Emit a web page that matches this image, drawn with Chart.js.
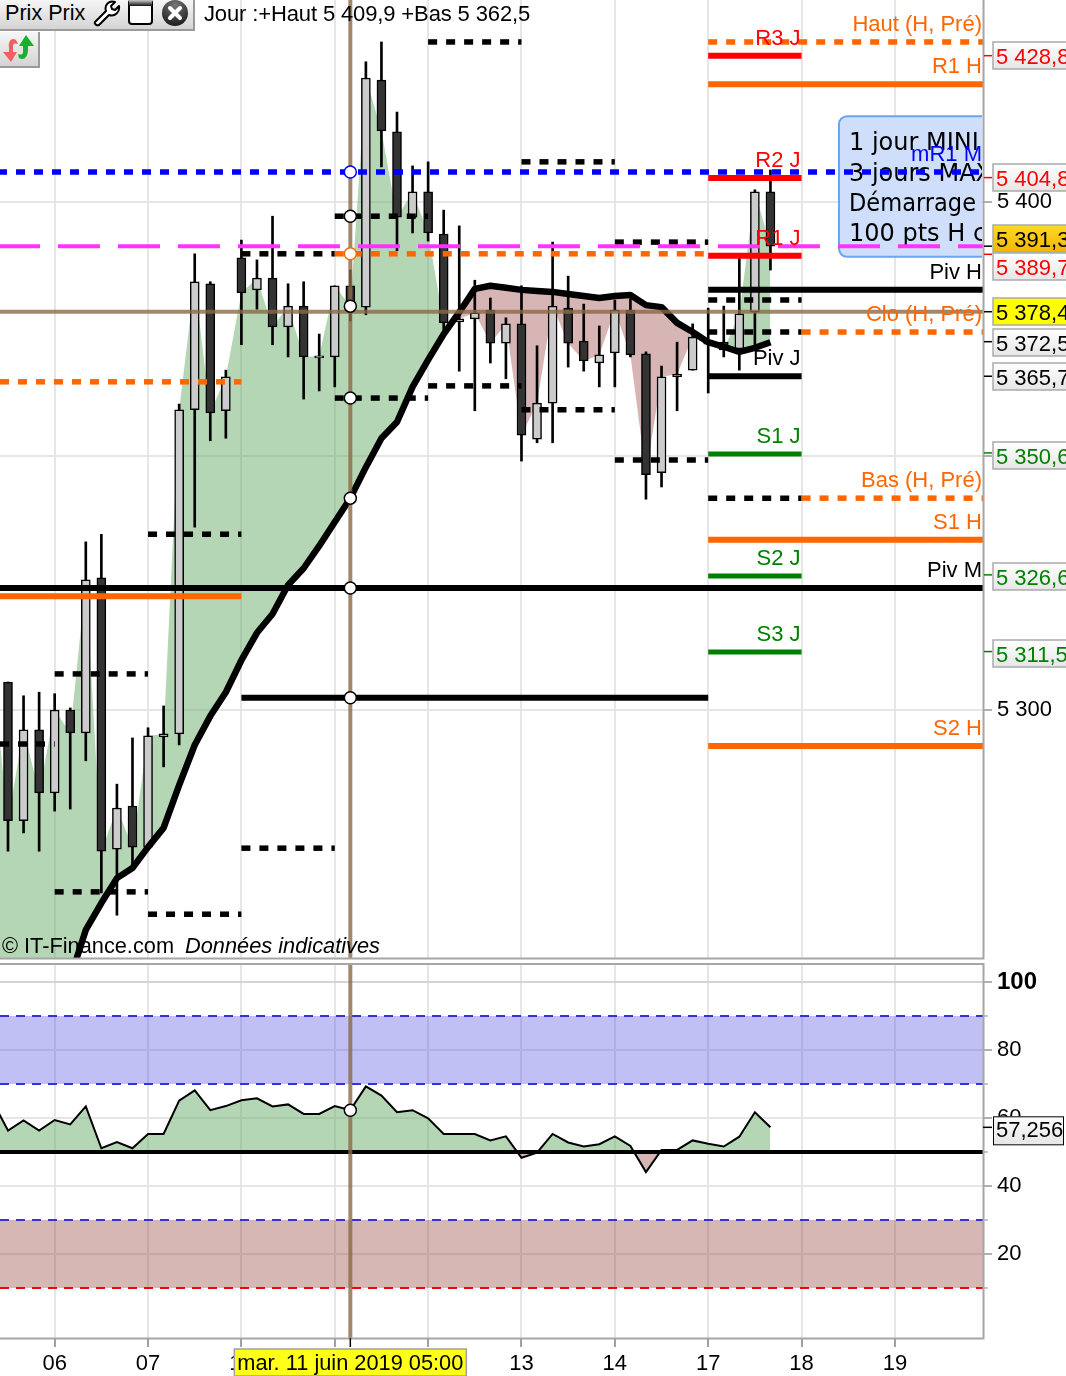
<!DOCTYPE html>
<html lang="fr"><head><meta charset="utf-8"><title>Prix</title>
<script src="https://cdn.jsdelivr.net/npm/chart.js@4/dist/chart.umd.min.js"></script>
<style>
html,body{margin:0;padding:0;background:#fff;width:1066px;height:1376px;overflow:hidden;font-family:"Liberation Sans",Arial,sans-serif;color:#000}
canvas{position:absolute;left:0}
#main{top:0}#osc{top:960px}
#bar{position:absolute;left:0;top:0;width:193px;height:29px;background:linear-gradient(#f6f6f6,#d4d4d4);border-right:2px solid #9a9a9a;border-bottom:2px solid #9a9a9a}
#bar span{position:absolute;left:5px;top:0;font-size:21.6px;line-height:26px;white-space:pre}
#bar svg{position:absolute;top:0}
#btn{position:absolute;left:0;top:32px;width:38px;height:34px;background:linear-gradient(#f6f6f6,#d4d4d4);border-right:2px solid #9a9a9a;border-bottom:2px solid #9a9a9a}
#title{position:absolute;left:204px;top:1px;font-size:22px;line-height:26px;white-space:pre;letter-spacing:-.13px}
</style></head><body>
<canvas id="main" width="1066" height="960"></canvas>
<canvas id="osc" width="1066" height="416"></canvas>
<div id="bar"><span>Prix Prix</span>
<svg style="left:93px" width="28" height="27" viewBox="0 0 28 27"><path d="M2 22 L13 11 C11 5 16 0 22 2 L18 6 L19 9 L22 10 L26 6 C27 12 22 17 16 15 L6 25 C4 26 1 24 2 22 Z" fill="#fff" stroke="#000" stroke-width="2" stroke-linejoin="round"/></svg>
<svg style="left:127px" width="28" height="27" viewBox="0 0 28 27"><defs><linearGradient id="w" x1="0" y1="0" x2="0" y2="1"><stop offset="0" stop-color="#ccc"/><stop offset="1" stop-color="#111"/></linearGradient></defs><rect x="2" y="0" width="23" height="24" rx="3" fill="#fff" stroke="#000" stroke-width="2"/><rect x="2" y="0" width="23" height="6" fill="url(#w)"/></svg>
<svg style="left:161px" width="28" height="27" viewBox="0 0 28 27"><defs><radialGradient id="c" cx=".5" cy=".2" r=".9"><stop offset="0" stop-color="#777"/><stop offset="1" stop-color="#111"/></radialGradient></defs><circle cx="14" cy="13" r="13" fill="url(#c)"/><path d="M9 8 L19 18 M19 8 L9 18" stroke="#fff" stroke-width="4" stroke-linecap="round"/></svg>
</div>
<div id="btn"><svg width="36" height="30" viewBox="0 0 36 30" style="position:absolute;left:1px;top:2px"><path d="M15 6 C10 3 7 8 8 14 L8 18 L2 18 L10 28 L16 18 L12 18 L12 12 C12 9 14 9 17 10 Z" fill="#f06060"/><path d="M18 24 C24 27 27 22 27 15 L27 12 L33 12 L25 1 L18 12 L22 12 L22 18 C22 21 20 21 17 20 Z" fill="#18b030"/></svg></div>
<div id="title">Jour :+Haut 5 409,9 +Bas 5 362,5</div>
<script>
const dayTicks=[3,9,15,21,27,33,39,45,51,57];
const dayLabels=['06','07','10','11','12','13','14','17','18','19'];
const opens=[5305.5,5278.2,5296.1,5283.7,5300.0,5295.5,5326.0,5272.6,5281.1,5273.0,5294.7,5295.3,5359.1,5383.9,5358.9,5389.0,5382.7,5385.0,5375.4,5379.5,5369.3,5369.5,5383.5,5379.3,5424.0,5413.8,5397.0,5402.0,5393.7,5376.4,5377.0,5378.7,5372.2,5376.0,5353.3,5360.4,5379.1,5372.6,5368.3,5370.3,5378.7,5370.1,5346.7,5365.6,5366.9,5372.8,5372.4,5371.1,5378.3,5402.0];
const highs=[5305.5,5302.8,5303.5,5303.2,5300.4,5333.1,5334.6,5285.4,5294.5,5296.5,5300.8,5360.2,5389.8,5384.3,5366.9,5392.5,5388.6,5397.2,5383.9,5384.3,5374.0,5383.5,5386.6,5427.6,5431.5,5417.7,5407.1,5407.9,5398.4,5395.3,5384.6,5381.1,5377.2,5383.5,5371.7,5392.1,5385.4,5379.9,5375.6,5380.7,5380.9,5370.5,5367.7,5372.4,5376.0,5379.1,5379.5,5389.0,5402.4,5406.3];
const lows=[5272.2,5275.8,5272.2,5280.1,5280.5,5290.0,5264.0,5259.6,5269.1,5273.0,5288.8,5293.1,5336.0,5353.0,5353.5,5371.9,5378.9,5371.9,5369.5,5361.2,5362.8,5363.6,5376.6,5377.8,5406.9,5390.4,5393.9,5392.3,5374.8,5366.7,5358.9,5368.3,5365.2,5349.0,5352.6,5352.6,5367.5,5366.7,5363.6,5363.6,5369.5,5341.5,5343.9,5358.9,5366.9,5362.4,5369.5,5366.9,5371.5,5386.6];
const closes=[5278.2,5296.1,5283.7,5300.0,5295.5,5325.6,5272.2,5280.7,5273.0,5294.9,5295.3,5359.1,5384.3,5358.5,5365.6,5382.1,5385.0,5375.4,5379.5,5369.5,5369.7,5383.5,5379.5,5424.4,5414.0,5397.0,5402.0,5393.9,5376.2,5377.0,5378.2,5372.2,5376.0,5354.1,5360.4,5379.5,5372.2,5368.7,5369.9,5378.7,5369.9,5346.3,5365.6,5366.1,5373.4,5372.0,5370.9,5378.0,5402.0,5391.3];
const closeBefore=5307.9;
const avgBefore=5213.4;
const average=[5219.3,5225.2,5231.1,5239.0,5247.2,5256.7,5262.0,5266.9,5268.9,5273.0,5276.8,5285.2,5293.1,5298.8,5303.5,5309.8,5315.2,5318.9,5324.6,5327.9,5332.3,5337.0,5341.7,5347.8,5353.5,5356.7,5363.6,5368.9,5374.0,5378.3,5382.9,5383.5,5383.1,5382.7,5382.5,5382.3,5381.9,5381.5,5381.1,5381.5,5381.7,5379.7,5379.3,5376.2,5374.4,5372.4,5371.5,5370.5,5371.3,5372.4];
const oscBefore=65.0;
const oscillator=[56.3,59.3,56.3,59.4,58.1,63.4,51.1,52.9,51.1,55.3,55.3,65.1,68.1,62.3,63.5,65.2,65.8,63.4,64.0,61.2,61.2,63.5,62.3,69.3,66.6,61.7,62.3,59.9,55.3,55.3,55.3,53.4,54.6,48.3,49.8,55.3,52.8,51.6,52.3,54.6,51.8,44.1,50.6,50.6,53.4,52.4,51.6,54.5,61.7,57.256];

const X0=-0.514,X1=62.66,CROSS=22;
const priceTicks=[5300,5350,5400];
const oscTicks=[20,40,60,80,100];
const oscMinor=[10,30,50,70,90];
// [from day index, to day index, level]
const blackDotted=[[X0,3,5293.3],[3,9,5307.1],[3,9,5264.2],[9,15,5334.6],[9,15,5259.8],[15,21,5389.8],[15,21,5272.8],[21,27,5397.2],[21,27,5361.4],[27,33,5431.5],[27,33,5363.8],[33,39,5407.9],[33,39,5359.1],[39,45,5392.1],[39,45,5349.2],[45,51,5380.7],[45,51,5374.4],[45,51,5341.7]];
const orangeDotted=[[X0,15,5364.6],[21,45,5389.8],[45,X1,5431.5],[51,X1,5374.4],[51,X1,5341.7]];
const blackSolid=[[X0,X1,5324.0],[15,45,5302.4],[45,X1,5382.7],[45,51,5365.7]];
const orangeSolid=[[X0,15,5322.4],[45,X1,5423.2],[45,X1,5333.5],[45,X1,5292.9]];
const redSolid=[[45,51,5428.8],[45,51,5404.7],[45,51,5389.4]];
const greenSolid=[[45,51,5350.4],[45,51,5326.4],[45,51,5311.4]];
const monthlyLevel=5405.9;
const lastLevel=5391.3;
const crossPrice=5378.4;
const crossPoints=[5405.9,5397.2,5389.8,5379.5,5361.4,5341.7,5324.0,5302.4];
const crossColors=['#0000ff','#000','#ff6600','#000','#000','#000','#000','#000'];
// text, colour, level it labels, right-hand day index
const levelLabels=[
['Haut (H, Pré)','#ff6600',5431.5,X1],['R1 H','#ff6600',5423.2,X1],['mR1 M','#0000ff',5405.9,X1],['Piv H','#000',5382.7,X1],
['Clo (H, Pré)','#ff6600',5374.4,X1],['Bas (H, Pré)','#ff6600',5341.7,X1],['S1 H','#ff6600',5333.5,X1],['Piv M','#000',5324.0,X1],['S2 H','#ff6600',5292.9,X1],
['R3 J','#ff0000',5428.8,51],['R2 J','#ff0000',5404.7,51],['R1 J','#ff0000',5389.4,51],['Piv J','#000',5365.7,51],
['S1 J','#008000',5350.4,51],['S2 J','#008000',5326.4,51],['S3 J','#008000',5311.4,51]];
// value, text colour, background, nudge
const priceTags=[
[5428.8,'#ff0000',null,0],[5404.8,'#ff0000',null,0],[5391.3,'#000','gold',-8],[5389.7,'#ff0000',null,12],
[5378.4,'#000','yellow',0],[5372.5,'#000',null,1],[5365.7,'#000',null,0],[5350.6,'#008000',null,3],[5326.6,'#008000',null,2],[5311.5,'#008000',null,2]];
const noteLines=['1 jour MINI','3 jours MAX','Démarrage','100 pts H c'];
const noteBand=[5416.9,5389.2];
const dateText='mar. 11 juin 2019 05:00';
const oscTag='57,256';

const FONT='"Liberation Sans",Arial,sans-serif';
const GRID='#e6e6e6',FRAME='#a6a6a6';
const fmt=v=>String(v).replace('.',',').replace(/^(\d)(\d{3})/,'$1 $2');
const idx=a=>a.map((_,i)=>i);
function seg(s,color,width,dash,order,offset){return {type:'line',data:[{x:s[0],y:s[2]},{x:s[1],y:s[2]}],borderColor:color,borderWidth:width,borderDash:dash||[],borderDashOffset:offset||0,pointRadius:0,order:order,tension:0};}
const candleColors=closes.map((c,i)=>c>=opens[i]?'#cccccc':'#333333');

const datasets=[
 {type:'line',data:[{x:-1,y:closeBefore},...closes.map((c,i)=>({x:i,y:c}))],borderWidth:0,pointRadius:0,tension:0,order:50,
  fill:{target:1,above:'rgba(100,170,100,.48)',below:'rgba(166,90,90,.45)'}},
 {type:'line',data:[{x:-1,y:avgBefore},...average.map((c,i)=>({x:i,y:c}))],borderColor:'#000',borderWidth:6.5,pointRadius:0,tension:0,order:5,fill:false,borderJoinStyle:'round'},
 {type:'bar',grouped:false,data:idx(highs).map(i=>({x:i,y:[lows[i],highs[i]]})),backgroundColor:'#000',barThickness:2,order:40},
 {type:'bar',grouped:false,data:idx(opens).map(i=>({x:i,y:[opens[i],closes[i]]})),backgroundColor:candleColors,borderColor:'#000',borderWidth:1.5,borderSkipped:false,barThickness:9,order:39},
 ...blackDotted.map(s=>seg(s,'#000',5.5,[9,9],12)),
 ...orangeDotted.map(s=>seg(s,'#ff6600',5.5,[9,9],11)),
 ...blackSolid.map(s=>seg(s,'#000',6,[],9)),
 ...orangeSolid.map(s=>seg(s,'#ff6600',6,[],9)),
 ...redSolid.map(s=>seg(s,'#ff0000',6,[],9)),
 ...greenSolid.map(s=>seg(s,'#008000',5,[],9)),
 seg([X0,X1,monthlyLevel],'#0000ff',5.5,[9,9],8,2),
 seg([X0,X1,lastLevel],'#ff33ff',4,[42,18],8,2),
 seg([X0,X1,crossPrice],'rgba(140,105,70,.8)',4,[],3),
 {type:'line',data:[{x:CROSS,y:5251},{x:CROSS,y:5440}],borderColor:'rgba(140,105,70,.8)',borderWidth:4,pointRadius:0,order:2},
 {type:'line',showLine:false,data:crossPoints.map(v=>({x:CROSS,y:v})),pointRadius:6,pointBackgroundColor:'#fff',pointBorderColor:crossColors,pointBorderWidth:1.5,order:1}
];

function zeroPad(s){s.paddingTop=s.paddingBottom=s.paddingLeft=s.paddingRight=0;}
const xBase={type:'linear',min:X0,max:X1,offset:false,
 afterBuildTicks(s){s.ticks=dayTicks.map(v=>({value:v}));},
 border:{display:false}};

function drawTag(ctx,y,text,color,bg){
 const x=993,w=90,h=27,t=Math.round(y-h/2);
 let fill=bg;
 if(!bg||bg==='gold'){const g=ctx.createLinearGradient(0,t,0,t+h);
  if(bg==='gold'){g.addColorStop(0,'#ffd92a');g.addColorStop(1,'#f2b600');}else{g.addColorStop(0,'#ffffff');g.addColorStop(1,'#e6e6e6');}
  fill=g;}
 ctx.fillStyle=fill;ctx.fillRect(x,t,w,h);
 ctx.strokeStyle='#aaaaaa';ctx.lineWidth=1.5;ctx.strokeRect(x,t,w,h);
 ctx.fillStyle=color;ctx.font='22px '+FONT;ctx.textAlign='left';ctx.textBaseline='middle';
 ctx.fillText(text,996,t+h/2+2);
}

const mainPlugin={id:'mainDecor',
 beforeDatasetsDraw(c){
  const ctx=c.ctx,a=c.chartArea,y=c.scales.y;
  const top=y.getPixelForValue(noteBand[0]),bot=y.getPixelForValue(noteBand[1]);
  ctx.save();ctx.beginPath();ctx.rect(a.left,a.top,a.right-a.left-1,a.bottom-a.top);ctx.clip();
  ctx.beginPath();ctx.roundRect(839,top,200,bot-top,8);
  ctx.fillStyle='#cfdffb';ctx.fill();ctx.strokeStyle='#6fa3f0';ctx.lineWidth=2;ctx.stroke();
  ctx.fillStyle='#000';ctx.font='24px "DejaVu Sans",sans-serif';ctx.textAlign='left';ctx.textBaseline='middle';
  noteLines.forEach((t,i)=>i===2?ctx.fillText(t,849,top+28+i*30.3,127):ctx.fillText(t,849,top+28+i*30.3));
  ctx.restore();
 },
 afterDatasetsDraw(c){
  const ctx=c.ctx,a=c.chartArea,y=c.scales.y,x=c.scales.x;
  ctx.save();
  ctx.font='22px '+FONT;ctx.textAlign='right';ctx.textBaseline='middle';
  levelLabels.forEach(l=>{ctx.fillStyle=l[1];ctx.fillText(l[0],Math.min(x.getPixelForValue(l[3]),a.right)-1,y.getPixelForValue(l[2])-17);});
  ctx.textAlign='left';ctx.fillStyle='#000';
  ctx.fillText('© IT-Finance.com',2,a.bottom-11,172);
  ctx.font='italic 22px '+FONT;ctx.fillText('Données indicatives',185,a.bottom-11,195);
  ctx.strokeStyle=FRAME;ctx.lineWidth=2;ctx.beginPath();ctx.moveTo(0,a.bottom+.5);ctx.lineTo(a.right+.5,a.bottom+.5);ctx.lineTo(a.right+.5,0);ctx.stroke();
  priceTags.forEach(t=>{
   const py=y.getPixelForValue(t[0]);
   ctx.strokeStyle=t[1];ctx.lineWidth=1.5;ctx.beginPath();ctx.moveTo(a.right+1,py);ctx.lineTo(a.right+9,py);ctx.stroke();
  });
  priceTags.forEach(t=>drawTag(ctx,y.getPixelForValue(t[0])+t[3],fmt(t[0].toFixed(1)),t[1],t[2]));
  ctx.restore();
 }};

new Chart(document.getElementById('main'),{type:'bar',data:{datasets},plugins:[mainPlugin],
 options:{responsive:false,animation:false,devicePixelRatio:1,layout:{autoPadding:false,padding:{bottom:2}},
  plugins:{legend:{display:false},tooltip:{enabled:false}},
  scales:{
   x:{...xBase,grid:{color:GRID,lineWidth:2,drawTicks:false,offset:false},ticks:{display:false},afterFit(s){s.height=0;zeroPad(s);}},
   y:{position:'right',min:5251.18,max:5439.76,
    afterBuildTicks(s){s.ticks=priceTicks.map(v=>({value:v}));},
    afterFit(s){s.width=83;zeroPad(s);},
    border:{display:false},
    grid:{color:GRID,lineWidth:2,tickLength:9,tickColor:'#b0b0b0'},
    ticks:{padding:5,color:'#000',font:{family:FONT,size:22},callback:v=>fmt(v)}}
  }}});

function band(v,color,fillTo,fillColor,order){
 return {type:'line',data:[{x:X0,y:v},{x:X1,y:v}],borderColor:color,borderWidth:2,borderDash:[9,7],pointRadius:0,order:order,
  fill:fillTo==null?false:{value:fillTo},backgroundColor:fillColor};
}
const oscSets=[
 band(90,'#3333dd',70,'rgba(60,60,220,.32)',30),
 band(70,'#3333dd',null,null,30),
 band(30,'#3333dd',10,'rgba(140,50,40,.35)',30),
 band(10,'#ff0000',null,null,30),
 {type:'line',data:[{x:-1,y:oscBefore},...oscillator.map((v,i)=>({x:i,y:v}))],borderColor:'#000',borderWidth:2,pointRadius:0,tension:0,order:10,
  fill:{value:50,above:'rgba(100,170,100,.48)',below:'rgba(166,90,90,.45)'}},
 {type:'line',data:[{x:X0,y:50},{x:X1,y:50}],borderColor:'#000',borderWidth:4,pointRadius:0,order:5},
 {type:'line',data:[{x:CROSS,y:-4.71},{x:CROSS,y:105.29}],borderColor:'rgba(140,105,70,.8)',borderWidth:4,pointRadius:0,order:2},
 {type:'line',showLine:false,data:[{x:CROSS,y:oscillator[CROSS]}],pointRadius:6,pointBackgroundColor:'#fff',pointBorderColor:'#000',pointBorderWidth:1.5,order:1}
];
const oscPlugin={id:'oscDecor',
 afterDatasetsDraw(c){
  const ctx=c.ctx,a=c.chartArea,y=c.scales.y,x=c.scales.x;
  ctx.save();
  ctx.strokeStyle=FRAME;ctx.lineWidth=2;ctx.beginPath();
  ctx.moveTo(0,a.top);ctx.lineTo(a.right+.5,a.top);ctx.lineTo(a.right+.5,a.bottom+.5);ctx.lineTo(0,a.bottom+.5);ctx.stroke();
  ctx.lineWidth=1.5;ctx.strokeStyle='#b0b0b0';
  oscMinor.forEach(v=>{const py=y.getPixelForValue(v);ctx.beginPath();ctx.moveTo(a.right,py);ctx.lineTo(a.right+5,py);ctx.stroke();});
  const last=oscillator[oscillator.length-1],py=y.getPixelForValue(last);
  ctx.strokeStyle='#000';ctx.beginPath();ctx.moveTo(a.right,py);ctx.lineTo(a.right+9,py);ctx.stroke();
  const g=ctx.createLinearGradient(0,py-14,0,py+14);g.addColorStop(0,'#fff');g.addColorStop(1,'#e8e8e8');
  ctx.fillStyle=g;ctx.fillRect(993,py-11,70,28);ctx.strokeStyle='#000';ctx.lineWidth=1;ctx.strokeRect(993.5,py-10.5,70,28);
  ctx.fillStyle='#000';ctx.font='22px '+FONT;ctx.textAlign='left';ctx.textBaseline='middle';ctx.fillText(oscTag,996,py+4);
  const cx=x.getPixelForValue(CROSS);
  ctx.strokeStyle='#000';ctx.lineWidth=1.5;ctx.beginPath();ctx.moveTo(cx,a.bottom);ctx.lineTo(cx,a.bottom+9);ctx.stroke();
  ctx.fillStyle='#ffff1a';ctx.fillRect(cx-116,a.bottom+11,232,27);ctx.strokeStyle='#a0a0a0';ctx.strokeRect(cx-116,a.bottom+11,232,27);
  ctx.fillStyle='#000';ctx.font='22px '+FONT;ctx.textAlign='center';ctx.fillText(dateText,cx,a.bottom+26,226);
  ctx.restore();
 }};
new Chart(document.getElementById('osc'),{type:'line',data:{datasets:oscSets},plugins:[oscPlugin],
 options:{responsive:false,animation:false,devicePixelRatio:1,layout:{autoPadding:false,padding:{top:4}},
  plugins:{legend:{display:false},tooltip:{enabled:false}},
  scales:{
   x:{...xBase,grid:{color:GRID,lineWidth:2,tickLength:9,tickColor:'#a0a0a0'},
    ticks:{color:'#000',font:{family:FONT,size:22},padding:4,maxRotation:0,autoSkip:false,callback:v=>dayLabels[dayTicks.indexOf(v)]},
    afterFit(s){s.height=38;zeroPad(s);}},
   y:{position:'right',min:-4.71,max:105.29,
    afterBuildTicks(s){s.ticks=oscTicks.map(v=>({value:v}));},
    afterFit(s){s.width=83;zeroPad(s);},
    border:{display:false},
    grid:{color:c=>c.tick&&c.tick.value===100?'#d4d4d4':GRID,lineWidth:2,tickLength:9,tickColor:'#b0b0b0'},
    ticks:{padding:5,color:'#000',font:c=>({family:FONT,size:c.tick&&c.tick.value===100?24:22,weight:c.tick&&c.tick.value===100?'bold':'normal'}),callback:v=>String(v)}}
  }}});
</script>
</body></html>
